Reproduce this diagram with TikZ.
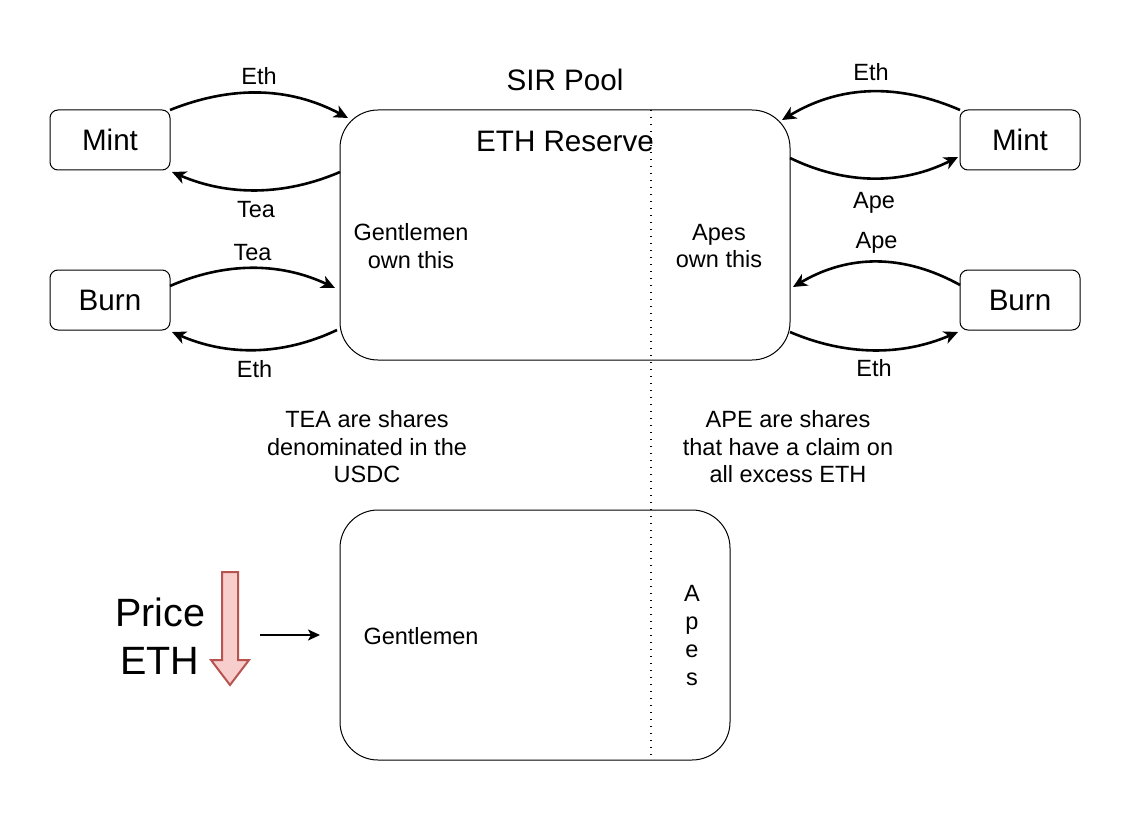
\documentclass[tikz,border=0pt]{standalone}
\usepackage{fontspec}
\setmainfont{Liberation Sans}
\usetikzlibrary{arrows.meta}
\begin{document}
\begin{tikzpicture}[x=1pt,y=-1pt,
  every node/.style={inner sep=0pt,outer sep=0pt},
  lbl/.style={font=\fontsize{23.5}{27.5}\selectfont,align=center},
  big/.style={font=\fontsize{29.6}{34}\selectfont,align=center},
  huge/.style={font=\fontsize{39.5}{48}\selectfont,align=center},
  smallbox/.style={draw,line width=1pt,rounded corners=8pt,minimum width=120pt,minimum height=60pt,font=\fontsize{29.6}{34}\selectfont},
  bigbox/.style={draw,line width=1pt,rounded corners=38pt},
  flow/.style={line width=2.6pt,-{Stealth[length=14pt,width=13pt,inset=4pt]}}
]
\useasboundingbox (0,0) rectangle (1131,813);
% boxes
\node[smallbox] (mintL) at (110,140) {Mint};
\node[smallbox] (burnL) at (110,300) {Burn};
\node[smallbox] (mintR) at (1020,140) {Mint};
\node[smallbox] (burnR) at (1020,300) {Burn};
\node[bigbox,minimum width=450pt,minimum height=250pt] (pool) at (565,235) {};
\node[bigbox,minimum width=390pt,minimum height=250pt] (after) at (535,635) {};
% dotted divider
\coordinate (divtop) at (651,110);
\coordinate (divbot) at (651,760);
\draw[line width=1.4pt,dash pattern=on 1.4pt off 5.6pt] (divtop) -- (divbot);
% texts
\node[big] (sir) at (565,80) {SIR Pool};
\node[big] (reserve) at (565,141) {ETH Reserve};
\node[lbl] (gent) at (411,246) {Gentlemen\\own this};
\node[lbl] (apes) at (719,246) {Apes\\own this};
\node[lbl] (tea) at (367,447) {TEA are shares\\denominated in the\\USDC};
\node[lbl] (ape) at (788,447) {APE are shares\\that have a claim on\\all excess ETH};
\node[lbl] (gent2) at (421,636) {Gentlemen};
\node[lbl,font=\fontsize{23.5}{28}\selectfont] (apes2) at (692,636) {A\\p\\e\\s};
\node[huge] (price) at (160,636) {Price\\ETH};
% left arrows
\draw[flow] (mintL.north east) .. controls +(60,-24) and +(-60,-32) .. ([shift={(8,8)}]pool.north west) node[pos=0.5,above=8pt,lbl] (l1) {Eth};
\draw[flow] ([shift={(0,2)}]pool.west |- mintL.south) .. controls +(-56,24) and +(56,24) .. ([shift={(2,2)}]mintL.south east) node[pos=0.5,below=11pt,lbl] (l2) {Tea};
\draw[flow] ([shift={(0,-14)}]burnL.east) .. controls +(55,-24) and +(-55,-26) .. ([shift={(-5,-12)}]pool.west |- burnL.east) node[pos=0.5,above=8pt,lbl] (l3) {Tea};
\draw[flow] ([shift={(-3,30)}]pool.west |- burnL.east) .. controls +(-55,26) and +(55,24) .. ([shift={(2,2)}]burnL.south east) node[pos=0.5,below=11pt,lbl] (l4) {Eth};
% right arrows
\draw[flow] (mintR.north west) .. controls +(-60,-26) and +(60,-36) .. ([shift={(-8,10)}]pool.north east) node[pos=0.5,above=11pt,lbl] (r1) {Eth};
\draw[flow] ([shift={(0,18)}]pool.east |- mintR.west) .. controls +(56,27) and +(-56,28) .. ([shift={(-2,17)}]mintR.west) node[pos=0.5,below=14pt,lbl] (r2) {Ape};
\draw[flow] ([shift={(0,-15)}]burnR.west) .. controls +(-56,-31) and +(56,-33) .. ([shift={(3,-13)}]pool.east |- burnR.west) node[pos=0.5,above=9pt,lbl] (r3) {Ape};
\draw[flow] ([shift={(0,32)}]pool.east |- burnR.west) .. controls +(56,24) and +(-56,24) .. ([shift={(-2,32)}]burnR.west) node[pos=0.5,below=9pt,lbl] (r4) {Eth};
% price down arrow
\draw[line width=2pt,draw={rgb,255:red,184;green,84;blue,80},fill={rgb,255:red,248;green,206;blue,204},line join=miter]
  (222,572) -- (238,572) -- (238,660) -- (249,660) -- (230,685) -- (211,660) -- (222,660) -- cycle;
% black arrow
\coordinate (pa) at (260,635);
\coordinate (pb) at (320,635);
\draw[line width=2.4pt,-{Stealth[length=12pt,width=11pt,inset=3pt]}] (pa) -- (pb);
\end{tikzpicture}
\end{document}
